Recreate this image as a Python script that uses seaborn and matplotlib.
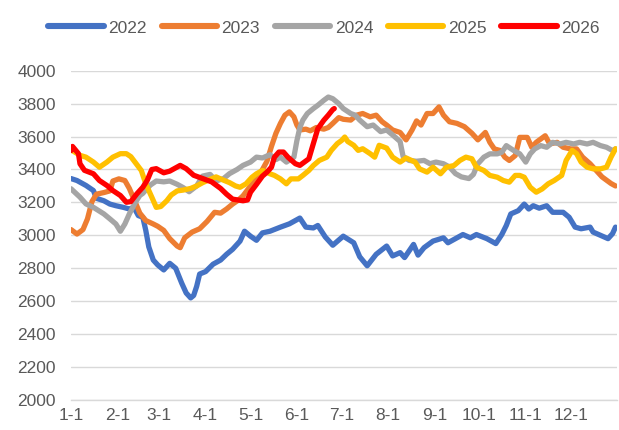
import pandas as pd
import matplotlib
matplotlib.use("Agg")
import matplotlib.pyplot as plt
import seaborn as sns
from matplotlib.lines import Line2D

# day of year (0 = Jan 1) and daily price
d2022 = [0, 4, 10, 15, 17, 22, 26, 30, 35, 39, 42, 45, 48, 50, 52, 55, 58, 62, 66, 70,
         74, 77, 80, 82, 84, 86, 90, 95, 100, 104, 108, 113, 116, 120, 124, 128, 133, 140, 146, 153,
         157, 162, 165, 170, 175, 182, 189, 193, 198, 204, 211, 215, 220, 223, 229, 232, 236, 242, 249, 252,
         258, 262, 267, 271, 278, 284, 288, 291, 294, 299, 303, 306, 309, 313, 318, 322, 329, 333, 337, 341,
         347, 349, 354, 359, 362, 364]
v2022 = [3345, 3333, 3303, 3272, 3225, 3210, 3190, 3180, 3170, 3160, 3170, 3120, 3110, 3030, 2930, 2850, 2820, 2790, 2830, 2800,
         2710, 2650, 2620, 2635, 2690, 2765, 2780, 2825, 2850, 2885, 2915, 2965, 3025, 2995, 2970, 3015, 3025, 3050, 3070, 3105,
         3050, 3045, 3060, 2990, 2940, 2995, 2955, 2870, 2815, 2885, 2935, 2875, 2895, 2865, 2945, 2880, 2925, 2965, 2985, 2955,
         2985, 3005, 2985, 3005, 2980, 2950, 3005, 3060, 3130, 3150, 3190, 3160, 3180, 3165, 3180, 3140, 3140, 3110, 3050, 3040,
         3050, 3020, 3000, 2980, 3010, 3050]

d2023 = [0, 4, 8, 11, 14, 17, 22, 26, 28, 32, 36, 39, 43, 46, 50, 55, 58, 62, 66, 71,
         73, 76, 81, 86, 91, 96, 100, 104, 108, 112, 115, 120, 124, 128, 131, 134, 137, 140, 143, 146,
         149, 151, 153, 157, 160, 164, 169, 172, 175, 179, 182, 187, 191, 195, 200, 204, 208, 211, 215, 220,
         224, 228, 231, 234, 238, 242, 246, 249, 253, 258, 263, 268, 272, 277, 280, 283, 287, 290, 293, 297,
         300, 305, 308, 311, 317, 320, 325, 329, 334, 338, 342, 347, 351, 355, 358, 361, 364]
v2023 = [3035, 3008, 3035, 3100, 3205, 3250, 3260, 3270, 3330, 3343, 3333, 3285, 3200, 3135, 3090, 3069, 3055, 3030, 2980, 2935,
         2925, 2985, 3020, 3040, 3085, 3140, 3135, 3160, 3190, 3215, 3240, 3300, 3340, 3400, 3450, 3540, 3620, 3680, 3730, 3750,
         3720, 3670, 3640, 3645, 3635, 3655, 3645, 3655, 3680, 3715, 3705, 3700, 3730, 3740, 3720, 3730, 3690, 3670, 3640, 3625,
         3580, 3640, 3695, 3670, 3740, 3740, 3780, 3730, 3690, 3680, 3660, 3620, 3580, 3625, 3565, 3525, 3515, 3475, 3455, 3485,
         3595, 3595, 3535, 3565, 3605, 3555, 3565, 3535, 3525, 3525, 3475, 3435, 3395, 3355, 3335, 3315, 3300]

d2024 = [0, 6, 10, 15, 22, 26, 30, 33, 36, 39, 43, 46, 48, 53, 57, 62, 66, 71, 75, 79,
         84, 88, 93, 97, 102, 106, 111, 115, 120, 124, 128, 133, 137, 140, 144, 149, 151, 153, 155, 158,
         162, 165, 169, 172, 175, 179, 182, 187, 190, 193, 198, 202, 207, 211, 215, 220, 222, 226, 231, 236,
         240, 244, 249, 253, 257, 261, 266, 269, 272, 276, 280, 285, 288, 291, 296, 300, 304, 307, 310, 314,
         318, 322, 327, 331, 336, 340, 345, 349, 354, 358, 362, 364]
v2024 = [3283, 3232, 3191, 3170, 3130, 3100, 3069, 3025, 3069, 3130, 3200, 3242, 3255, 3305, 3330, 3325, 3330, 3310, 3290, 3265,
         3300, 3360, 3370, 3330, 3345, 3375, 3400, 3425, 3445, 3475, 3470, 3490, 3460, 3475, 3445, 3475, 3575, 3655, 3700, 3740,
         3770, 3790, 3820, 3840, 3830, 3800, 3770, 3740, 3730, 3700, 3660, 3670, 3630, 3640, 3610, 3570, 3480, 3455, 3450, 3455,
         3435, 3445, 3435, 3415, 3375, 3355, 3345, 3370, 3435, 3475, 3495, 3495, 3505, 3545, 3515, 3495, 3445, 3495, 3525, 3545,
         3535, 3565, 3555, 3565, 3555, 3565, 3555, 3565, 3545, 3535, 3515, 3525]

d2025 = [0, 6, 10, 15, 19, 24, 28, 33, 37, 40, 44, 47, 50, 54, 57, 60, 64, 67, 71, 75,
         80, 84, 88, 93, 97, 102, 106, 110, 113, 117, 121, 124, 128, 133, 136, 140, 144, 147, 152, 155,
         159, 162, 166, 171, 174, 178, 181, 183, 185, 189, 192, 195, 200, 203, 206, 211, 215, 220, 224, 230,
         233, 238, 242, 247, 251, 256, 260, 264, 268, 271, 276, 280, 285, 289, 293, 297, 300, 303, 307, 311,
         315, 319, 323, 328, 331, 335, 338, 341, 345, 349, 354, 358, 361, 364]
v2025 = [3520, 3486, 3475, 3445, 3414, 3445, 3475, 3496, 3496, 3478, 3430, 3394, 3313, 3232, 3170, 3175, 3210, 3245, 3270, 3275,
         3285, 3300, 3320, 3340, 3355, 3335, 3320, 3300, 3292, 3313, 3353, 3374, 3394, 3374, 3364, 3343, 3313, 3343, 3343, 3364,
         3394, 3424, 3455, 3475, 3516, 3557, 3577, 3597, 3570, 3547, 3516, 3526, 3496, 3475, 3547, 3530, 3475, 3445, 3470, 3445,
         3404, 3384, 3414, 3374, 3414, 3424, 3455, 3475, 3465, 3414, 3394, 3364, 3353, 3333, 3323, 3364, 3364, 3353, 3292, 3262,
         3282, 3313, 3333, 3364, 3455, 3516, 3496, 3445, 3414, 3404, 3404, 3414, 3475, 3526]

d2026 = [0, 1, 5, 6, 9, 15, 19, 24, 28, 33, 37, 40, 44, 48, 51, 54, 57, 62, 66, 73,
         77, 82, 88, 94, 100, 104, 108, 115, 118, 120, 124, 128, 131, 134, 136, 139, 142, 145, 150, 153,
         156, 159, 162, 165, 169, 172, 175, 176]
v2026 = [3515, 3540, 3496, 3435, 3395, 3374, 3333, 3303, 3272, 3242, 3201, 3205, 3252, 3292, 3335, 3400, 3405, 3380, 3390, 3425,
         3405, 3365, 3345, 3325, 3285, 3250, 3220, 3210, 3215, 3262, 3310, 3360, 3384, 3414, 3475, 3506, 3506, 3475, 3435, 3425,
         3445, 3465, 3557, 3648, 3699, 3730, 3764, 3770]

years = ["2022", "2023", "2024", "2025", "2026"]
colors = ["#4472C4", "#ED7D31", "#A5A5A5", "#FFC000", "#FF0000"]

month_starts = [0, 31, 59, 90, 120, 151, 181, 212, 243, 273, 304, 334, 365]
month_labels = ["1-1", "2-1", "3-1", "4-1", "5-1", "6-1", "7-1", "8-1", "9-1", "10-1", "11-1", "12-1", ""]

series = {
    "2022": (d2022, v2022),
    "2023": (d2023, v2023),
    "2024": (d2024, v2024),
    "2025": (d2025, v2025),
    "2026": (d2026, v2026),
}
frames = [pd.DataFrame({"day": d, "price": v, "year": y}) for y, (d, v) in series.items()]
df = pd.concat(frames, ignore_index=True)

sns.set_theme(style="white")
plt.rcParams["font.family"] = ["Liberation Sans", "DejaVu Sans"]
text_color = "#595959"
grid_color = "#d9d9d9"

fig = plt.figure(figsize=(6.19, 4.30), dpi=100)
ax = fig.add_axes([71 / 619, 30 / 430, 546 / 619, 329.3 / 430])

sns.lineplot(data=df, x="day", y="price", hue="year", hue_order=years,
             palette=dict(zip(years, colors)), sort=False, estimator=None,
             linewidth=3.8, legend=False, ax=ax)
for ln in ax.lines:
    ln.set_solid_capstyle("round")
    ln.set_solid_joinstyle("round")

ax.set_xlim(0, 365)
ax.set_ylim(2000, 4000)
ax.set_yticks(range(2000, 4001, 200))
ax.set_xticks(month_starts)
ax.set_xticklabels(month_labels)
ax.set_xlabel("")
ax.set_ylabel("")

ax.yaxis.grid(True, color=grid_color, linewidth=1.0)
ax.set_axisbelow(True)
sns.despine(ax=ax, left=True)
ax.spines["bottom"].set_color(grid_color)
ax.spines["bottom"].set_linewidth(1.0)
ax.tick_params(axis="x", direction="out", length=4, width=1, color=grid_color,
               labelsize=12.5, labelcolor=text_color, pad=2)
ax.tick_params(axis="y", length=0, labelsize=12.5, labelcolor=text_color, pad=11)

handles = [Line2D([0], [0], color=c, lw=4.4, solid_capstyle="round") for c in colors]
fig.legend(handles, years, loc="center", bbox_to_anchor=(324 / 619, 1 - 28 / 430),
           ncol=5, frameon=False, fontsize=12.5, labelcolor=text_color,
           handlelength=3.2, handletextpad=0.25, columnspacing=0.85)

fig.savefig("out.png", dpi=100)
